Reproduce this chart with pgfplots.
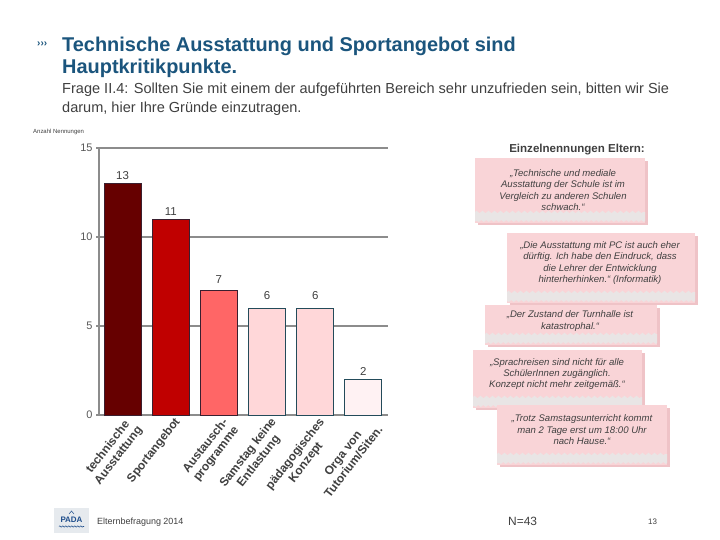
\documentclass[border=0pt]{standalone}
\usepackage{pgfplots}
\pgfplotsset{compat=1.18}
\usepackage{fontspec}
\setmainfont{Liberation Sans}
\usetikzlibrary{decorations.pathmorphing}

\definecolor{titleblue}{HTML}{1B557D}
\definecolor{txtgray}{HTML}{404040}
\definecolor{tickgray}{HTML}{595959}
\definecolor{gridgray}{HTML}{8C8C8C}
\definecolor{barA}{HTML}{660000}
\definecolor{barB}{HTML}{C00000}
\definecolor{barC}{HTML}{FF6666}
\definecolor{barD}{HTML}{FFD7D9}
\definecolor{barE}{HTML}{FFF2F3}
\definecolor{edgeA}{HTML}{3A1F2F}
\definecolor{edgeB}{HTML}{234B5A}
\definecolor{boxpink}{HTML}{F9D4D7}
\definecolor{boxshadow}{HTML}{EFC3C7}
\definecolor{torn}{HTML}{E9E5E5}
\definecolor{logobg}{HTML}{E6EAEE}
\definecolor{logoblue}{HTML}{1F4E8C}

% x1 y1 x2 y2 cx cy text
\newcommand{\callout}[7]{%
  \fill[boxshadow] (#1+3,#2+3) rectangle (#3+3,#4+2);
  \fill[boxpink] (#1,#2) rectangle (#3,#4);
  \fill[torn] (#1,#4-2) -- (#1,#4-11)
     decorate[decoration={zigzag,segment length=6bp,amplitude=1.3bp}]{-- (#3,#4-11)}
     -- (#3,#4-2)
     decorate[decoration={zigzag,segment length=5bp,amplitude=1bp}]{-- (#1,#4-2)};
  \node[align=center, text=txtgray, inner sep=0pt,
        font=\itshape\fontsize{9.6}{11.5}\selectfont] at (#5,#6) {#7};
}

\begin{document}
\begin{tikzpicture}
\fill[white] (0,0) rectangle (720bp,-540bp);
\useasboundingbox (0,0) rectangle (720bp,-540bp);

\begin{scope}[x=1bp,y=-1bp]
  % title
  \node[anchor=west, text=titleblue, inner sep=0pt, font=\bfseries\fontsize{10}{12}\selectfont] at (37,44) {›››};
  \node[anchor=base west, text=titleblue, inner sep=0pt, font=\bfseries\fontsize{20}{22}\selectfont] at (62,51) {Technische Ausstattung und Sportangebot sind};
  \node[anchor=base west, text=titleblue, inner sep=0pt, font=\bfseries\fontsize{20}{22}\selectfont] at (62,73) {Hauptkritikpunkte.};
  \node[anchor=base west, text=txtgray, inner sep=0pt, font=\fontsize{14.6}{16}\selectfont] at (62,93) {Frage II.4: Sollten Sie mit einem der aufgeführten Bereich sehr unzufrieden sein, bitten wir Sie};
  \node[anchor=base west, text=txtgray, inner sep=0pt, font=\fontsize{14.6}{16}\selectfont] at (62,112) {darum, hier Ihre Gründe einzutragen.};
  \node[anchor=base west, text=txtgray, inner sep=0pt, font=\fontsize{6}{7}\selectfont] at (33,133) {Anzahl Nennungen};

  % right side
  \node[anchor=base, text=txtgray, inner sep=0pt, font=\bfseries\fontsize{11.6}{13}\selectfont] at (577,152) {Einzelnennungen Eltern:};
  \callout{475}{158}{645}{223}{563}{190}{„Technische und mediale\\Ausstattung der Schule ist im\\Vergleich zu anderen Schulen\\schwach.“}
  \callout{507}{233}{695}{303}{600}{263}{„Die Ausstattung mit PC ist auch eher\\dürftig. Ich habe den Eindruck, dass\\die Lehrer der Entwicklung\\hinterherhinken.“ (Informatik)}
  \callout{485}{305}{657}{345}{570}{321}{„Der Zustand der Turnhalle ist\\katastrophal.“}
  \callout{473}{350}{642}{408}{557}{374}{„Sprachreisen sind nicht für alle\\SchülerInnen zugänglich.\\Konzept nicht mehr zeitgemäß.“}
  \callout{497}{405}{667}{465}{582}{430}{„Trotz Samstagsunterricht kommt\\man 2 Tage erst um 18:00 Uhr\\nach Hause.“}

  % footer
  \fill[logobg] (54,508) rectangle (89,533);
  \node[text=logoblue, inner sep=0pt, font=\bfseries\fontsize{8}{9}\selectfont] at (71.5,520) {PADA};
  \draw[logoblue, line width=0.5bp] (69,514) -- (71.5,511) -- (74,514);
  \draw[logoblue, line width=0.6bp, decorate, decoration={zigzag,segment length=3bp,amplitude=0.6bp}] (59,526.5) -- (84,526.5);
  \node[anchor=base west, text=txtgray, inner sep=0pt, font=\fontsize{9}{11}\selectfont] at (97,524) {Elternbefragung 2014};
  \node[anchor=base west, text=txtgray, inner sep=0pt, font=\fontsize{12}{14}\selectfont] at (508,525) {N=43};
  \node[anchor=base west, text=txtgray, inner sep=0pt, font=\fontsize{8}{10}\selectfont] at (648,524) {13};
\end{scope}

\begin{axis}[
  at={(99bp,-415bp)}, anchor=south west,
  scale only axis, width=289bp, height=267bp,
  xmin=-0.49, xmax=5.51, ymin=0, ymax=15,
  ytick={0,5,10,15},
  xtick={0,1,2,3,4,5},
  xticklabels={{technische\\Ausstattung},{Sportangebot},{Austausch-\\programme},{Samstag keine\\Entlastung},{pädagogisches\\Konzept},{Orga von\\Tutorium/Siten.}},
  xticklabel style={rotate=52, anchor=north east, align=center, font=\bfseries\fontsize{12}{13.5}\selectfont, text=txtgray, inner sep=1bp, xshift=4bp},
  yticklabel style={font=\fontsize{11}{13}\selectfont, text=tickgray},
  /pgf/number format/assume math mode=true,
  axis x line=bottom, axis y line=left,
  axis line style={draw=gridgray, line width=1.6bp, -},
  ymajorgrids, grid style={draw=gridgray, line width=1.6bp},
  major tick length=3bp, tick align=outside,
  ytick style={draw=gridgray, line width=1.6bp},
  xtick style={draw=none},
  ybar, bar width=37bp,
  nodes near coords,
  every node near coord/.append style={font=\fontsize{11.5}{13}\selectfont, text=txtgray},
  clip=false,
]
\addplot[bar shift=0pt, fill=barA, draw=edgeA, line width=1bp] coordinates {(0,13)};
\addplot[bar shift=0pt, fill=barB, draw=edgeA, line width=1bp] coordinates {(1,11)};
\addplot[bar shift=0pt, fill=barC, draw=edgeA, line width=1bp, every node near coord/.append style={yshift=3bp}] coordinates {(2,7)};
\addplot[bar shift=0pt, fill=barD, draw=edgeB, line width=1bp, every node near coord/.append style={yshift=5bp}] coordinates {(3,6)};
\addplot[bar shift=0pt, fill=barD, draw=edgeB, line width=1bp, every node near coord/.append style={yshift=5bp}] coordinates {(4,6)};
\addplot[bar shift=0pt, fill=barE, draw=edgeB, line width=1bp] coordinates {(5,2)};
\end{axis}
\end{tikzpicture}
\end{document}
